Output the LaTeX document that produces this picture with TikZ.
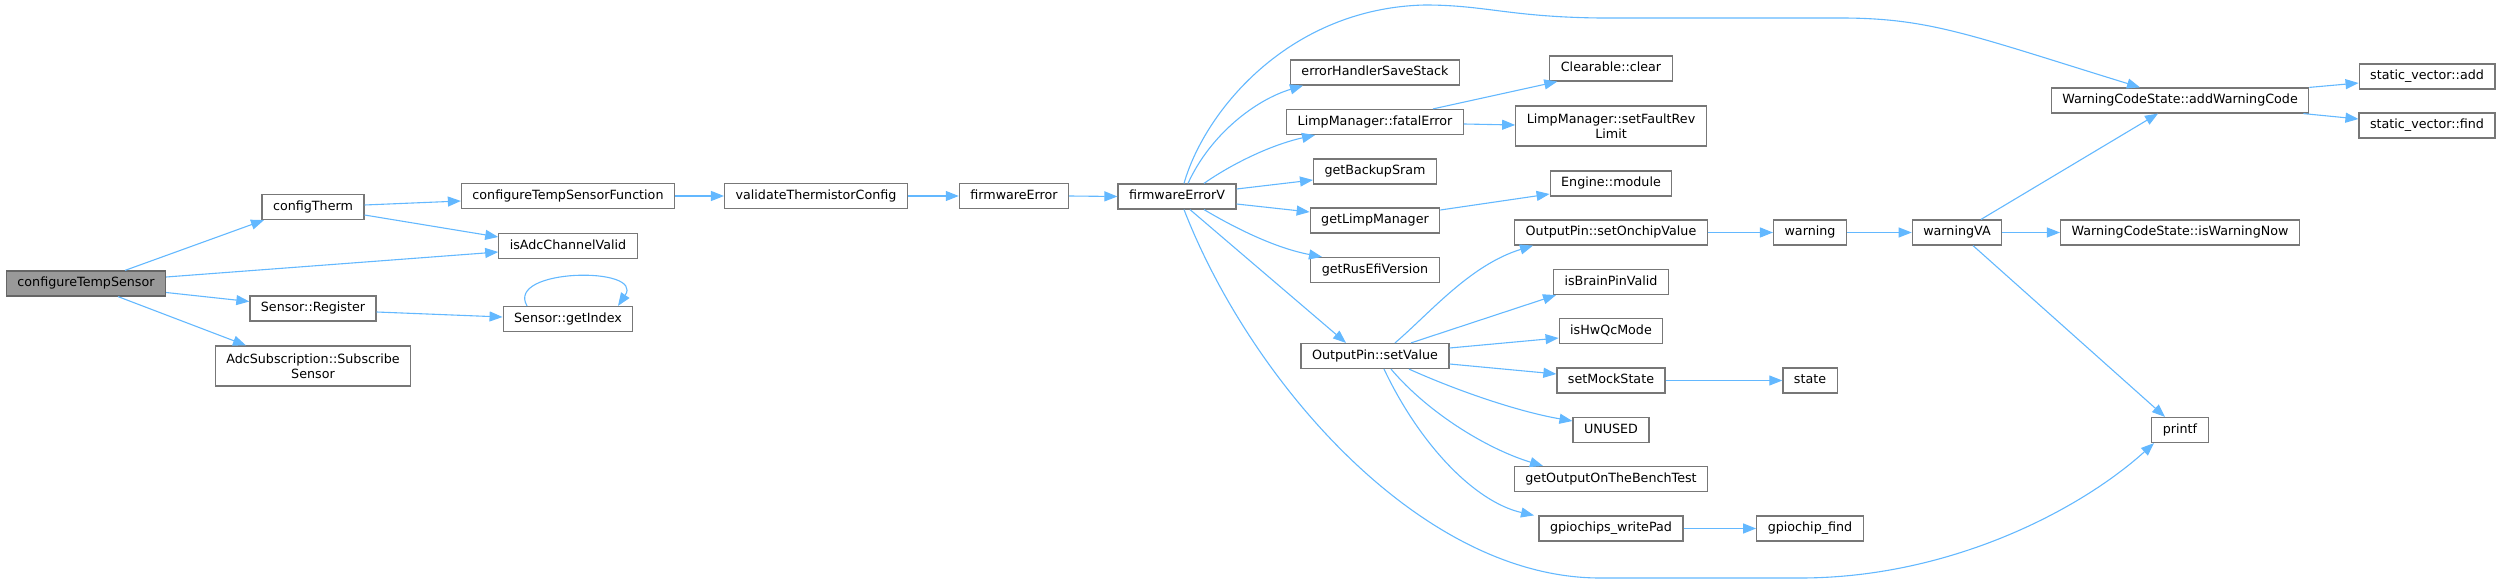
\documentclass[tikz,border=0pt]{standalone}
\usepackage{fontspec}
\setmainfont{DejaVu Sans}
\usetikzlibrary{arrows.meta,calc}
\definecolor{edgeblue}{HTML}{63B8FF}
\definecolor{nodeborder}{HTML}{777777}
\definecolor{rootfill}{HTML}{999999}
\begin{document}
\begin{tikzpicture}[x=1pt,y=-1pt,
  basebox/.style={draw=nodeborder, line width=1.2pt, fill=white, inner xsep=11pt, inner ysep=0pt,
    font=\fontsize{12.7}{15}\selectfont},
  box/.style={basebox, minimum height=25pt, text height=9.5pt, text depth=2.7pt},
  rootbox/.style={box, fill=rootfill, draw=black!60},
  twobox/.style={basebox, align=center, minimum height=40pt},
  e/.style={draw=edgeblue, line width=1.1pt, -{Triangle[length=13pt,width=10pt]}}]
\useasboundingbox (0,0) rectangle (2503,585);

% nodes
\node[rootbox] (cts) at (86,283.5) {configureTempSensor};
\node[box] (ct) at (313,207) {configTherm};
\node[box] (reg) at (313,308.5) {Sensor::Register};
\node[twobox] (adc) at (313,366) {AdcSubscription::Subscribe\\Sensor};
\node[box] (ctsf) at (568,196) {configureTempSensorFunction};
\node[box] (isadc) at (568,246) {isAdcChannelValid};
\node[box] (gidx) at (568,319) {Sensor::getIndex};
\node[box] (vtc) at (816,196) {validateThermistorConfig};
\node[box] (fe) at (1014,196) {firmwareError};
\node[box] (fev) at (1177,196.5) {firmwareErrorV};
\node[box] (ehss) at (1375,72.5) {errorHandlerSaveStack};
\node[box] (lmfe) at (1375,122) {LimpManager::fatalError};
\node[box] (gbs) at (1375,171.5) {getBackupSram};
\node[box] (glm) at (1375,220.5) {getLimpManager};
\node[box] (grev) at (1375,270) {getRusEfiVersion};
\node[box] (opsv) at (1375,356) {OutputPin::setValue};
\node[box] (cc) at (1611,68.5) {Clearable::clear};
\node[twobox] (sfrl) at (1611,126) {LimpManager::setFaultRev\\Limit};
\node[box] (em) at (1611,183.5) {Engine::module};
\node[box] (osov) at (1611,232.5) {OutputPin::setOnchipValue};
\node[box] (ibpv) at (1611,282) {isBrainPinValid};
\node[box] (ihqm) at (1611,331) {isHwQcMode};
\node[box] (sms) at (1611,380.5) {setMockState};
\node[box] (unu) at (1611,430) {UNUSED};
\node[box] (gobt) at (1611,479) {getOutputOnTheBenchTest};
\node[box] (gwp) at (1611,528.5) {gpiochips\_writePad};
\node[box] (warn) at (1810,232.5) {warning};
\node[box] (st) at (1810,380.5) {state};
\node[box] (gf) at (1810,528.5) {gpiochip\_find};
\node[box] (wva) at (1957,232.5) {warningVA};
\node[box] (awc) at (2180,100.5) {WarningCodeState::addWarningCode};
\node[box] (iwn) at (2180,232.5) {WarningCodeState::isWarningNow};
\node[box] (pf) at (2180,430) {printf};
\node[box] (sva) at (2427,76.5) {static\_vector::add};
\node[box] (svf) at (2427,125.5) {static\_vector::find};

% edges
\draw[e] ($(cts.north)+(39,0)$) -- ($(ct.south)+(-49,0)$);
\draw[e] ($(cts.east)+(0,-6.5)$) -- ($(isadc.west)+(0,6)$);
\draw[e] ($(cts.east)+(0,9)$) -- ($(reg.west)+(0,-7)$);
\draw[e] ($(cts.south)+(32,0)$) -- ($(adc.north)+(-67,0)$);
\draw[e] ($(ct.east)+(0,-2)$) -- ($(ctsf.west)+(0,5)$);
\draw[e] ($(ct.east)+(0,8)$) -- ($(isadc.west)+(0,-9)$);
\draw[e] (ctsf.east) -- (vtc.west);
\draw[e] (vtc.east) -- (fe.west);
\draw[e] (fe.east) -- (fev.west);
\draw[e] ($(reg.east)+(0,3.5)$) -- ($(gidx.west)+(0,-2)$);
\draw[e] ($(gidx.north)+(-41,0)$) .. controls (505,268) and (645,266) .. ($(gidx.north)+(50,0)$);

\draw[e] ($(fev.north)+(11,0)$) .. controls (1210,135) and (1255,100) .. ($(ehss.south)+(-72,0)$);
\draw[e] ($(fev.north)+(27,0)$) .. controls (1230,165) and (1270,145) .. ($(lmfe.south)+(-60,0)$);
\draw[e] ($(fev.east)+(0,-7.5)$) -- ($(gbs.west)+(0,8.5)$);
\draw[e] ($(fev.east)+(0,7.5)$) -- ($(glm.west)+(0,-8.5)$);
\draw[e] ($(fev.south)+(27,0)$) .. controls (1235,228) and (1275,248) .. ($(grev.north)+(-53,0)$);
\draw[e] ($(fev.south)+(13,0)$) -- ($(opsv.north)+(-29,0)$);
\draw[e] ($(fev.north)+(7,0)$) .. controls (1205,110) and (1290,8) .. (1425,5)
  .. controls (1485,5) and (1510,17) .. (1600,18) -- (1840,18)
  .. controls (1930,18) and (1970,35) .. ($(awc.north)+(-40,0)$);
\draw[e] ($(fev.south)+(7,0)$) .. controls (1250,380) and (1420,578) .. (1600,578) -- (1800,578)
  .. controls (1950,578) and (2080,510) .. ($(pf.south)+(-26,0)$);

\draw[e] ($(lmfe.north)+(58,0)$) -- ($(cc.south west)+(8,0)$);
\draw[e] ($(lmfe.east)+(0,2)$) -- ($(sfrl.west)+(0,-1)$);
\draw[e] ($(glm.east)+(0,-10.5)$) -- ($(em.west)+(0,10.5)$);

\draw[e] ($(opsv.north)+(20,0)$) .. controls (1430,313) and (1470,265) .. ($(osov.south)+(-78,0)$);
\draw[e] ($(opsv.north)+(36,0)$) -- ($(ibpv.south)+(-55,0)$);
\draw[e] ($(opsv.east)+(0,-8)$) -- ($(ihqm.west)+(0,7)$);
\draw[e] ($(opsv.east)+(0,8)$) -- ($(sms.west)+(0,-6.5)$);
\draw[e] ($(opsv.south)+(34,0)$) .. controls (1460,392) and (1520,412) .. ($(unu.west)+(0,-9)$);
\draw[e] ($(opsv.south)+(16,0)$) .. controls (1430,415) and (1490,450) .. ($(gobt.north)+(-68,0)$);
\draw[e] ($(opsv.south)+(9,0)$) .. controls (1420,445) and (1475,502) .. ($(gwp.north)+(-77,0)$);

\draw[e] (osov.east) -- (warn.west);
\draw[e] (warn.east) -- (wva.west);
\draw[e] ($(wva.north)+(24,0)$) -- ($(awc.south)+(-22,0)$);
\draw[e] (wva.east) -- (iwn.west);
\draw[e] ($(wva.south)+(16,0)$) -- ($(pf.north)+(-15,0)$);
\draw[e] (awc.north east) -- ($(sva.west)+(0,6.5)$);
\draw[e] ($(awc.south east)+(-6,0)$) -- ($(svf.west)+(0,-6.5)$);
\draw[e] (sms.east) -- (st.west);
\draw[e] (gwp.east) -- (gf.west);
\end{tikzpicture}
\end{document}
